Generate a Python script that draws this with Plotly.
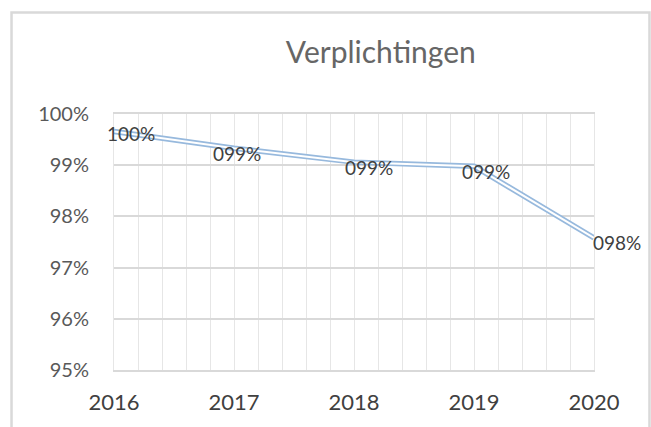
import plotly.graph_objects as go

years = [2016, 2017, 2018, 2019, 2020]
values = [0.9966, 0.9933, 0.9906, 0.9898, 0.9758]
y_ticks = [0.95, 0.96, 0.97, 0.98, 0.99, 1.00]
title_text = "Verplichtingen"

# label offsets (px) relative to each point
label_dx = [17, 3, 15, 12, 23]
label_dy = [-2, -5, -5, -5, -5]

FONT = "Lato"
fig = go.Figure()

# double line effect: blue outer, white inner
fig.add_trace(go.Scatter(x=years, y=values, mode="lines",
                         line=dict(color="#97b9dd", width=5.5),
                         hoverinfo="skip", showlegend=False))
fig.add_trace(go.Scatter(x=years, y=values, mode="lines",
                         line=dict(color="#ffffff", width=2),
                         hoverinfo="skip", showlegend=False))

for x, v, dx, dy in zip(years, values, label_dx, label_dy):
    fig.add_annotation(x=x, y=v, text=f"{round(v*100):03d}%", showarrow=False,
                       xshift=dx, yshift=dy,
                       font=dict(family=FONT, size=19, color="#404040"))

fig.update_layout(
    width=651, height=427,
    margin=dict(l=114, r=57, t=114, b=57),
    paper_bgcolor="white", plot_bgcolor="white",
    title=dict(text=title_text, x=0.585, xanchor="center", y=0.878, yanchor="middle",
               font=dict(family=FONT, size=30, color="#666666")),
    showlegend=False,
)
fig.update_xaxes(range=[2016, 2020], tickvals=years, ticktext=[str(y) for y in years],
                 showgrid=True, gridcolor="#e6e6e6", gridwidth=1,
                 minor=dict(dtick=0.2, showgrid=True, gridcolor="#e6e6e6", gridwidth=1),
                 zeroline=False, showline=True, mirror=True, linecolor="#d9d9d9", linewidth=2,
                 ticks="", layer="below traces",
                 ticklabelstandoff=12, automargin=False,
                 tickfont=dict(family=FONT, size=22, color="#404040"))
fig.update_yaxes(range=[0.95, 1.0], tickvals=y_ticks, tickformat=".0%",
                 showgrid=True, gridcolor="#d9d9d9", gridwidth=2,
                 zeroline=False, showline=True, mirror=True, linecolor="#e6e6e6", linewidth=1,
                 ticks="", layer="below traces",
                 ticklabelstandoff=20, automargin=False,
                 tickfont=dict(family=FONT, size=20, color="#595959"))

# chart border
fig.add_shape(type="rect", xref="paper", yref="paper",
              x0=-0.2135, x1=1.1156, y0=-0.4, y1=1.396,
              line=dict(color="#d9d9d9", width=2.5), fillcolor="rgba(0,0,0,0)", layer="below")

fig.write_html("out.html", config={"displayModeBar": False},
               post_script="document.body.style.margin='0';document.body.style.overflow='hidden';")
